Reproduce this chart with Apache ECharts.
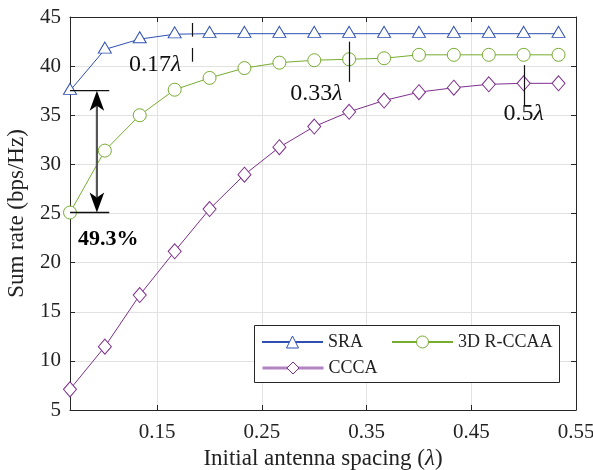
<!DOCTYPE html>
<html>
<head>
<meta charset="utf-8">
<script src="https://cdn.jsdelivr.net/npm/echarts@6/dist/echarts.min.js"></script>
<style>
  html, body { margin: 0; padding: 0; background: #ffffff; }
  #chart { width: 593px; height: 470px; }
</style>
</head>
<body>
<div id="chart"></div>
<script>
// Initial antenna spacing (in wavelengths)
const spacing = [0.0667, 0.1, 0.1333, 0.1667, 0.2, 0.2333, 0.2667, 0.3, 0.3333, 0.3667, 0.4, 0.4333, 0.4667, 0.5, 0.5333];
// Sum rate (bps/Hz) per scheme
const sra   = [37.5, 41.7, 42.75, 43.25, 43.3, 43.3, 43.3, 43.3, 43.3, 43.3, 43.3, 43.3, 43.3, 43.3, 43.3];
const rccaa = [25.1, 31.4, 35.0, 37.6, 38.8, 39.8, 40.35, 40.6, 40.7, 40.8, 41.15, 41.15, 41.15, 41.15, 41.15];
const ccca  = [7.1, 11.45, 16.7, 21.15, 25.45, 28.95, 31.75, 33.85, 35.35, 36.5, 37.35, 37.8, 38.15, 38.25, 38.25];

const xTicks = [0.15, 0.25, 0.35, 0.45, 0.55];
const yMin = 5, yMax = 45, yStep = 5;

// Convergence markers: x position, segments (y ranges), label and label anchor
const convergenceMarks = [
  { x: 0.1831, segs: [[44.39, 43.0], [41.85, 40.45]], label: '0.17', lx: 0.148, ly: 40.1 },
  { x: 0.3333, segs: [[42.49, 38.4]], label: '0.33', lx: 0.302, ly: 37.2 },
  { x: 0.5,    segs: [[40.1, 36.04]], label: '0.5',  lx: 0.5,   ly: 35.15 }
];
// Gain arrow between the two schemes at the smallest spacing
const gainArrow = { x: 0.0924, from: 37.5, to: 25.1, x0: 0.0667, x1: 0.1042, text: '49.3%', tx: 0.1032, ty: 22.4 };

const FONT = 'Liberation Serif';
const AXIS = '#262626';
const GRID = '#e2e2e2';
const C_SRA = '#2f4fb3';
const C_RCCAA = '#77ac30';
const C_CCCA = '#7e2f8e';
const TICK_FS = 21, NAME_FS = 23, LEG_FS = 18;

const chart = echarts.init(document.getElementById('chart'), null, { renderer: 'canvas' });

function pairs(ys) { return spacing.map((x, i) => [x, ys[i]]); }

const xCommon = {
  type: 'value', min: 0.0667, max: 0.55,
  axisLine: { show: true, onZero: false, lineStyle: { color: AXIS, width: 1 } },
  axisTick: { show: true, inside: true, length: 5, customValues: xTicks, lineStyle: { color: AXIS } },
  splitLine: { show: false },
  axisLabel: { show: false, customValues: xTicks }
};
const yCommon = {
  type: 'value', min: yMin, max: yMax, interval: yStep,
  axisLine: { show: true, onZero: false, lineStyle: { color: AXIS, width: 1 } },
  axisTick: { show: true, inside: true, length: 5, lineStyle: { color: AXIS } },
  splitLine: { show: false },
  axisLabel: { show: false }
};

const legendBase = { padding: 0, itemWidth: 61, itemHeight: 15, itemGap: 6, z: 10,
  textStyle: { fontFamily: FONT, fontSize: LEG_FS, color: '#222' } };

const option = {
  animation: false,
  backgroundColor: '#ffffff',
  textStyle: { fontFamily: FONT },
  grid: { left: 70, right: 17, top: 17, bottom: 60, containLabel: false, outerBoundsMode: 'none' },
  xAxis: [
    Object.assign({}, xCommon, {
      position: 'bottom',
      name: 'Initial antenna spacing ({l|λ})',
      nameLocation: 'middle', nameGap: 36,
      nameTextStyle: { fontFamily: FONT, fontSize: NAME_FS, color: '#222',
        rich: { l: { fontFamily: FONT, fontSize: NAME_FS, fontStyle: 'italic', color: '#222' } } },
      axisLabel: { show: true, customValues: xTicks, margin: 12, fontFamily: FONT, fontSize: TICK_FS, color: '#222',
        formatter: v => v.toFixed(2) },
      splitLine: { show: true, lineStyle: { color: GRID, width: 1 } }
    }),
    Object.assign({}, xCommon, { position: 'top' })
  ],
  yAxis: [
    Object.assign({}, yCommon, {
      position: 'left',
      name: 'Sum rate (bps/Hz)',
      nameLocation: 'middle', nameGap: 42,
      nameTextStyle: { fontFamily: FONT, fontSize: NAME_FS, color: '#222' },
      axisLabel: { show: true, margin: 9, fontFamily: FONT, fontSize: TICK_FS, color: '#222' },
      splitLine: { show: true, lineStyle: { color: GRID, width: 1 } }
    }),
    Object.assign({}, yCommon, { position: 'right' })
  ],
  legend: [
    Object.assign({}, legendBase, { data: [{ name: 'SRA', itemStyle: { borderWidth: 1 } }], left: 261, top: 333 }),
    Object.assign({}, legendBase, { data: [{ name: '3D R-CCAA', itemStyle: { borderWidth: 1 } }], left: 391, top: 333 }),
    Object.assign({}, legendBase, { data: [{ name: 'CCCA', itemStyle: { borderWidth: 1 }, lineStyle: { width: 3, color: '#b283c2' } }], left: 261, top: 359 })
  ],
  series: [
    {
      name: 'SRA', type: 'line', data: pairs(sra),
      symbol: 'triangle', symbolSize: [13, 11], symbolOffset: [0, -1.8], showAllSymbol: true,
      lineStyle: { color: C_SRA, width: 1 },
      itemStyle: { color: '#ffffff', borderColor: C_SRA, borderWidth: 1 }, z: 3
    },
    {
      name: '3D R-CCAA', type: 'line', data: pairs(rccaa),
      symbol: 'circle', symbolSize: 13, showAllSymbol: true,
      lineStyle: { color: C_RCCAA, width: 1 },
      itemStyle: { color: '#ffffff', borderColor: C_RCCAA, borderWidth: 1 }, z: 3
    },
    {
      name: 'CCCA', type: 'line', data: pairs(ccca),
      symbol: 'diamond', symbolSize: [13, 15], showAllSymbol: true,
      lineStyle: { color: C_CCCA, width: 1 },
      itemStyle: { color: '#ffffff', borderColor: C_CCCA, borderWidth: 1 }, z: 3
    }
  ]
};
chart.setOption(option);

// Annotations placed through the axis scales
function px(x, y) { return chart.convertToPixel({ gridIndex: 0 }, [x, y]); }
const g = [];

// legend frame
g.push({ type: 'rect', shape: { x: 254.5, y: 325.5, width: 305, height: 57 },
  style: { fill: '#ffffff', stroke: AXIS, lineWidth: 1 }, z: 5, silent: true });

convergenceMarks.forEach(m => {
  m.segs.forEach(s => {
    const a = px(m.x, s[0]), b = px(m.x, s[1]);
    g.push({ type: 'line', shape: { x1: Math.round(a[0]) + 0.5, y1: a[1], x2: Math.round(b[0]) + 0.5, y2: b[1] },
      style: { stroke: '#111', lineWidth: 1.2 }, z: 20, silent: true });
  });
  const p = px(m.lx, m.ly);
  g.push({ type: 'text', x: p[0], y: p[1], z: 20, silent: true,
    style: { text: '{n|' + m.label + '}{l|λ}', align: 'center', verticalAlign: 'middle',
      rich: { n: { fontFamily: FONT, fontSize: 24, fill: '#111' },
              l: { fontFamily: FONT, fontSize: 24, fontStyle: 'italic', fill: '#111' } } } });
});

// gain arrow
(function () {
  const top = px(gainArrow.x, gainArrow.from), bot = px(gainArrow.x, gainArrow.to);
  const l0 = px(gainArrow.x0, gainArrow.from), l1 = px(gainArrow.x1, gainArrow.from);
  const m0 = px(gainArrow.x0, gainArrow.to), m1 = px(gainArrow.x1, gainArrow.to);
  g.push({ type: 'line', shape: { x1: l0[0], y1: l0[1], x2: l1[0], y2: l1[1] }, style: { stroke: '#111', lineWidth: 1.3 }, z: 20, silent: true });
  g.push({ type: 'line', shape: { x1: m0[0], y1: m0[1], x2: m1[0], y2: m1[1] }, style: { stroke: '#111', lineWidth: 1.3 }, z: 20, silent: true });
  const L = 20, W = 7.3, N = 15;
  g.push({ type: 'line', shape: { x1: top[0], y1: top[1] + N, x2: bot[0], y2: bot[1] - N }, style: { stroke: '#555', lineWidth: 2.2 }, z: 20, silent: true });
  g.push({ type: 'polygon', shape: { points: [[top[0], top[1]], [top[0] - W, top[1] + L], [top[0], top[1] + N], [top[0] + W, top[1] + L]] },
    style: { fill: '#000' }, z: 21, silent: true });
  g.push({ type: 'polygon', shape: { points: [[bot[0], bot[1]], [bot[0] - W, bot[1] - L], [bot[0], bot[1] - N], [bot[0] + W, bot[1] - L]] },
    style: { fill: '#000' }, z: 21, silent: true });
  const t = px(gainArrow.tx, gainArrow.ty);
  g.push({ type: 'text', x: t[0], y: t[1], z: 21, silent: true,
    style: { text: gainArrow.text, align: 'center', verticalAlign: 'middle', fontFamily: FONT, fontSize: 22, fontWeight: 'bold', fill: '#000' } });
})();

chart.setOption({ graphic: g });
</script>
</body>
</html>
